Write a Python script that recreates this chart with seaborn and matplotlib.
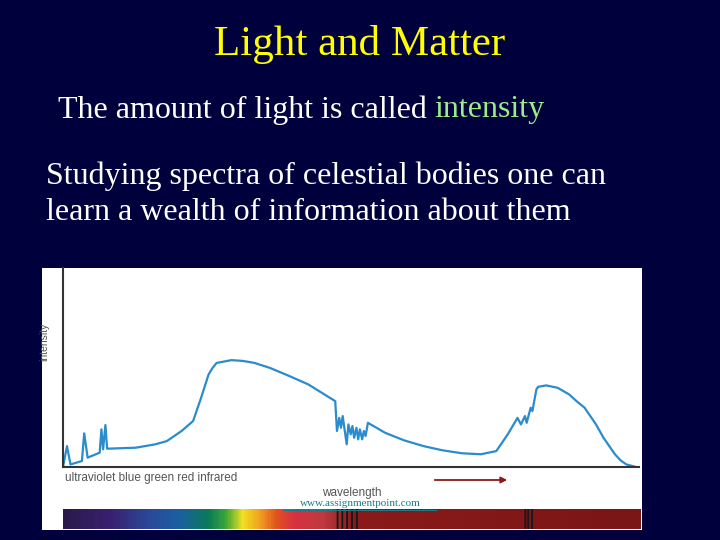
import matplotlib
matplotlib.use("Agg")
import matplotlib.pyplot as plt
import seaborn as sns
import numpy as np
import pandas as pd
from matplotlib.colors import LinearSegmentedColormap

wavelength = [0, 0.7, 1.3, 3.3, 3.7, 4.3, 6.4, 6.7, 7.0, 7.4, 7.7, 12.7, 16.1, 18.1, 20.7, 22.7,
              24.1, 25.4, 26.1, 26.8, 29.4, 31.4, 33.4, 36.1, 39.5, 42.8, 47.5, 47.8, 48.2, 48.5,
              48.8, 49.5, 49.8, 50.2, 50.5, 50.8, 51.2, 51.5, 51.8, 52.2, 52.5, 52.8, 53.2, 56.2,
              59.5, 62.9, 66.2, 69.6, 72.9, 75.6, 77.6, 79.3, 79.9, 80.6, 80.9, 81.6, 81.9, 82.6,
              82.9, 84.3, 86.3, 88.3, 89.6, 91.0, 93.0, 94.3, 96.3, 97.3, 98.3, 100]
intensity = [0, 10.5, 1.3, 3.0, 16.9, 4.7, 7.2, 18.9, 8.9, 21.1, 9.2, 9.7, 11.4, 13.0, 18.1, 23.1,
             34.8, 46.5, 49.8, 52.3, 53.7, 53.3, 52.3, 49.8, 45.7, 41.5, 33.1, 18.1, 24.7, 19.7,
             25.6, 11.4, 21.4, 16.4, 20.6, 14.7, 19.7, 13.9, 18.9, 13.9, 18.1, 15.6, 22.2, 17.2,
             13.4, 10.5, 8.4, 6.9, 6.4, 8.0, 16.4, 24.7, 21.4, 25.6, 22.2, 29.8, 28.1, 39.0,
             40.3, 41.0, 39.8, 36.5, 33.1, 29.8, 21.4, 14.7, 6.4, 3.3, 1.3, 0]
band_stops = [0.0, 0.08, 0.15, 0.2, 0.25, 0.28, 0.31, 0.34, 0.37, 0.4, 0.45, 0.5, 1.0]
band_colors = ["#2a1a4a", "#3a2070", "#2a4a9a", "#1a5fa0", "#0a7a5a", "#3aa63a", "#f0e020",
               "#f0a020", "#e05020", "#d83040", "#c03a40", "#8c1a1a", "#7a1616"]
dark_lines = [47.5, 48.3, 49.2, 50.0, 50.8, 80.0, 80.6, 81.3]

BG = "#00003c"
sns.set_style("white")
plt.rcParams['font.family'] = ['Liberation Serif', 'DejaVu Serif']
fig = plt.figure(figsize=(7.2, 5.4), dpi=100, facecolor=BG)

wax = fig.add_axes([42/720, 1-530/540, 600/720, 262/540], zorder=0)
wax.set_facecolor("white")
wax.set_xticks([]); wax.set_yticks([])
for s in wax.spines.values():
    s.set_visible(False)

ax = fig.add_axes([63/720, 1-467/540, 576/720, 199/540], zorder=1)
ax.patch.set_alpha(0)
df = pd.DataFrame({"wavelength": wavelength, "intensity": intensity})
sns.lineplot(data=df, x="wavelength", y="intensity", ax=ax, color="#2a8ccc", lw=1.6, sort=False)
ax.set_xlim(0, 100.5)
ax.set_ylim(0, 100)
ax.set_xticks([]); ax.set_yticks([])
ax.set_xlabel(""); ax.set_ylabel("")
for s in ["top", "right"]:
    ax.spines[s].set_visible(False)
for s in ["left", "bottom"]:
    ax.spines[s].set_color("#333333"); ax.spines[s].set_linewidth(1.5)

bax = fig.add_axes([63/720, 1-529/540, 578/720, 20/540], zorder=1)
cmap = LinearSegmentedColormap.from_list("spec", list(zip(band_stops, band_colors)))
img = cmap(np.linspace(0, 1, 600))[None, :, :3].copy()
for d in dark_lines:
    i = int(d / 100 * 599)
    img[0, i:i+2] = 0.1
bax.imshow(img, aspect="auto", extent=[0, 100, 0, 1])
bax.axis("off")

sans = ['Liberation Sans', 'DejaVu Sans']
fig.text(44/720, 1-342/540, "intensity", rotation=90, ha="center", va="center", fontsize=7.5,
         color="#555555", family=sans, zorder=5)
fig.text(65/720, 1-478/540, "ultraviolet blue green red infrared", ha="left", va="center",
         fontsize=8.5, color="#555555", family=sans, zorder=5)
fig.text(352/720, 1-493/540, "wavelength", ha="center", va="center", fontsize=8.5,
         color="#555555", family=sans, zorder=5)
arr = matplotlib.patches.FancyArrowPatch((432/720, 1-480/540), (510/720, 1-480/540),
                   transform=fig.transFigure, arrowstyle="-|>", mutation_scale=9, color="#8a1a1a", lw=1.3)
arr.set_zorder(5)
fig.add_artist(arr)
fig.text(360/720, 1-504/540, "www.assignmentpoint.com", ha="center", va="center", fontsize=8,
         color="#1a7a8a", family=['Liberation Serif'], zorder=5)
ul = plt.Rectangle((283/720, 1-511/540), 154/720, 1/540, transform=fig.transFigure,
                   facecolor="#1a7a8a", edgecolor="none", zorder=5)
fig.add_artist(ul)

fig.text(360/720, 1-45/540, "Light and Matter", ha="center", va="center", fontsize=31, color="#ffff00")
fig.text(58/720, 1-110/540, "The amount of light is called", ha="left", va="center", fontsize=23, color="white")
fig.text(434/720, 1-110/540, "intensity", ha="left", va="center", fontsize=23, color="#99ee88")
fig.text(46/720, 1-176/540, "Studying spectra of celestial bodies one can", ha="left", va="center",
         fontsize=23, color="white")
fig.text(46/720, 1-213/540, "learn a wealth of information about them", ha="left", va="center",
         fontsize=23, color="white")

fig.savefig("out.png", dpi=100, facecolor=BG)
